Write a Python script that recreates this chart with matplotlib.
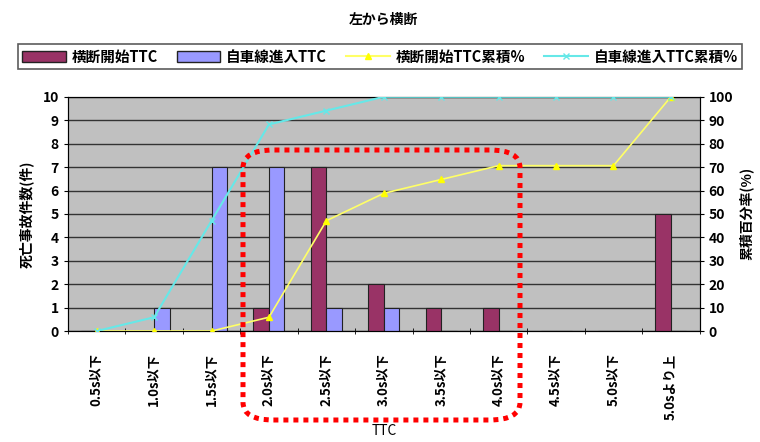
import matplotlib.pyplot as plt
import numpy as np
from matplotlib.patches import FancyBboxPatch
from matplotlib.lines import Line2D
from matplotlib.patches import Patch

plt.rcParams['font.family'] = ['Noto Sans CJK JP', 'DejaVu Sans']
plt.rcParams['font.weight'] = 'bold'
plt.rcParams['axes.labelweight'] = 'bold'

# TTC classes and fatal crash counts
categories = ['0.5s以下', '1.0s以下', '1.5s以下', '2.0s以下', '2.5s以下', '3.0s以下',
              '3.5s以下', '4.0s以下', '4.5s以下', '5.0s以下', '5.0sより上']
cross_start = [0, 0, 0, 1, 7, 2, 1, 1, 0, 0, 5]
lane_entry = [0, 1, 7, 7, 1, 1, 0, 0, 0, 0, 0]
cross_start_cum = [0, 0, 0, 5.9, 47.1, 58.8, 64.7, 70.6, 70.6, 70.6, 100]
lane_entry_cum = [0, 5.9, 47.1, 88.2, 94.1, 100, 100, 100, 100, 100, 100]

fig = plt.figure(figsize=(7.6, 4.42), dpi=100)
ax = fig.add_axes([0.0895, 0.251, 0.831, 0.530])
ax.set_facecolor('#c0c0c0')

x = np.arange(len(categories))
w = 0.27
ax.bar(x - w / 2, cross_start, w, color='#993366', edgecolor='#222222', linewidth=0.8, zorder=3)
ax.bar(x + w / 2, lane_entry, w, color='#9999ff', edgecolor='#222222', linewidth=0.8, zorder=3)

ax.set_xlim(-0.5, len(categories) - 0.5)
ax.set_ylim(0, 10)
ax.set_yticks(range(0, 11))
ax.yaxis.grid(True, color='#333333', linewidth=1.0, zorder=0)
ax.set_axisbelow(True)
ax.set_xticks(x)
ax.set_xticklabels(categories, rotation=90, fontsize=9.5)
ax.set_xticks(np.arange(-0.5, len(categories), 1), minor=True)
ax.tick_params(axis='x', which='major', length=0, pad=16)
ax.tick_params(axis='x', which='minor', length=4, direction='inout')
ax.tick_params(axis='y', labelsize=10, length=3)
ax.set_ylabel('死亡事故件数(件)', fontsize=10, labelpad=6)
ax.set_xlabel('TTC', fontsize=10, fontweight='normal')
ax.xaxis.set_label_coords(0.5, -0.395)
for s in ax.spines.values():
    s.set_color('#333333')

ax2 = ax.twinx()
ax2.plot(x, cross_start_cum, color='#ffff66', marker='^', markersize=5,
         markerfacecolor='#ffff00', markeredgecolor='#ffff00', linewidth=1.2, zorder=4)
ax2.plot(x, lane_entry_cum, color='#66e8e8', marker='x', markersize=5,
         markeredgecolor='#66e8e8', linewidth=1.5, zorder=4)
ax2.set_ylim(0, 100)
ax2.set_yticks(range(0, 101, 10))
ax2.tick_params(axis='y', labelsize=10, length=3)
ax2.set_ylabel('累積百分率(%)', fontsize=10, rotation=90, labelpad=4)

fig.text(0.505, 0.955, '左から横断', ha='center', va='center', fontsize=10)

handles = [
    Patch(facecolor='#993366', edgecolor='#222222'),
    Patch(facecolor='#9999ff', edgecolor='#222222'),
    Line2D([], [], color='#ffff66', marker='^', markersize=4, markerfacecolor='#ffff00',
           markeredgecolor='#ffff00'),
    Line2D([], [], color='#66e8e8', marker='x', markersize=4),
]
labels = ['横断開始TTC', '自車線進入TTC', '横断開始TTC累積%', '自車線進入TTC累積%']
leg = fig.legend(handles, labels, loc='center', bbox_to_anchor=(0.5, 0.872), ncol=4,
                 fontsize=10.5, frameon=True, fancybox=False, edgecolor='#333333',
                 handlelength=3.0, columnspacing=1.3, handletextpad=0.4,
                 borderpad=0.3)
leg.get_frame().set_linewidth(1.2)

# dotted highlight box around the 2.0s-4.0s range
box = FancyBboxPatch((243 / 760, 1 - 420 / 442), (520 - 243) / 760, (420 - 150) / 442,
                     boxstyle='round,pad=0,rounding_size=0.04',
                     transform=fig.transFigure, fill=False, edgecolor='#ff0000',
                     linewidth=3.6, linestyle=(0, (1, 1)), zorder=10)
box.set_capstyle('butt')
fig.patches.append(box)

fig.savefig('out.png', dpi=100)
